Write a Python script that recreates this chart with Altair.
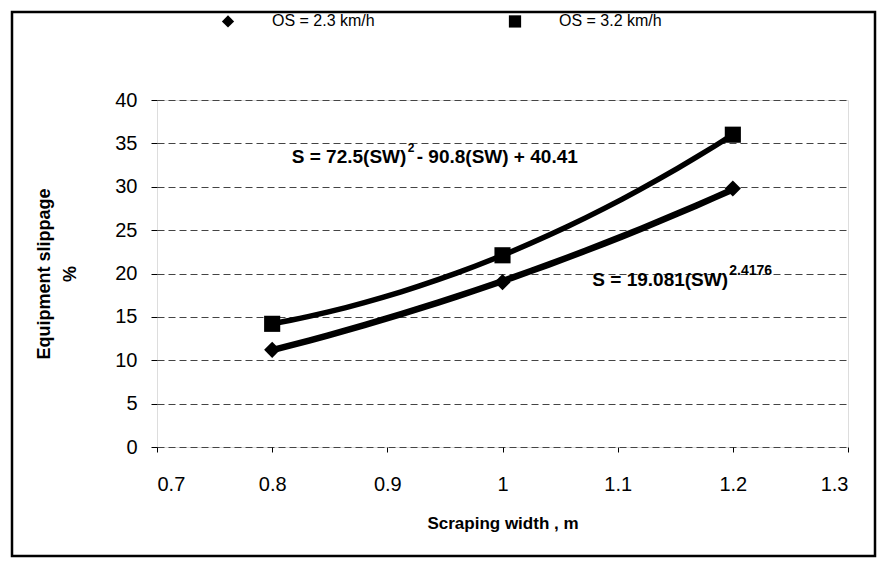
import altair as alt
import pandas as pd

# Values
sw = [0.8, 1.0, 1.2]
slip_os23 = [11.2, 19.0, 29.8]
slip_os32 = [14.2, 22.1, 36.0]
series_names = ["OS = 2.3 km/h", "OS = 3.2 km/h"]
x_ticks = [0.7, 0.8, 0.9, 1.0, 1.1, 1.2, 1.3]
y_ticks = [0, 5, 10, 15, 20, 25, 30, 35, 40]

# equation annotations (data coordinates of the left end)
eq_main = ["S = 72.5(SW)", "S = 19.081(SW)"]
eq_sup = ["2", "2.4176"]
eq_tail = [" - 90.8(SW) + 40.41", ""]
eq_x = [0.817, 1.078]
eq_y = [33.4, 19.3]

rows = []
for i, x in enumerate(sw):
    rows.append({"SW": x, "S": slip_os23[i], "series": series_names[0]})
    rows.append({"SW": x, "S": slip_os32[i], "series": series_names[1]})
df = pd.DataFrame(rows)
eq_df = pd.DataFrame({"x": eq_x, "y": eq_y, "main": eq_main, "sup": eq_sup, "tail": eq_tail})

FONT = "Liberation Sans"
W, H = 691, 347

xscale = alt.Scale(domain=[0.7, 1.3], nice=False, zero=False)
yscale = alt.Scale(domain=[0, 40], nice=False)

xenc = alt.X("SW:Q", scale=xscale,
             axis=alt.Axis(values=x_ticks, format="~g", grid=False,
                           title="Scraping width , m", titleFontWeight="bold",
                           titleFontSize=17, titleFont=FONT, titleY=76,
                           titleBaseline="middle", titleColor="black",
                           labelFontSize=20, labelFont=FONT, labelPadding=22,
                           tickSize=5, labelColor="black", tickColor="black",
                           domain=False))
yenc = alt.Y("S:Q", scale=yscale,
             axis=alt.Axis(values=y_ticks, grid=True, gridDash=[7, 4],
                           gridColor="#444444", gridWidth=1,
                           title=["Equipment slippage", "%"],
                           titleFontWeight="bold", titleFontSize=18,
                           titleFont=FONT, titleX=-113, titleY=H / 2,
                           titleAngle=270, titleBaseline="middle",
                           titleAlign="center", titleLineHeight=26,
                           titleColor="black",
                           labelFontSize=20, labelFont=FONT, labelPadding=14,
                           tickSize=6, labelColor="black", tickColor="black",
                           domain=False))

base = alt.Chart(df)

line23 = base.transform_filter(alt.datum.series == series_names[0]).transform_regression(
    "SW", "S", method="pow", extent=[0.8, 1.2]
).mark_line(color="black", strokeWidth=6.5).encode(x=xenc, y=yenc)

line32 = base.transform_filter(alt.datum.series == series_names[1]).transform_regression(
    "SW", "S", method="poly", order=2, extent=[0.8, 1.2]
).mark_line(color="black", strokeWidth=5.5).encode(x=xenc, y=yenc)

points = base.mark_point(filled=True, color="black", opacity=1, size=260).encode(
    x=xenc, y=yenc,
    shape=alt.Shape("series:N",
                    scale=alt.Scale(domain=series_names, range=["diamond", "square"]),
                    legend=alt.Legend(title=None, orient="none", legendX=63, legendY=-87,
                                      direction="horizontal", columns=2,
                                      labelFont=FONT, labelFontSize=16,
                                      labelOffset=36, columnPadding=130,
                                      symbolSize=150, symbolFillColor="black",
                                      symbolStrokeColor="black", symbolOpacity=1,
                                      labelColor="black")),
)

eq_font = 19
eq1 = alt.Chart(eq_df).mark_text(align="left", baseline="middle", font=FONT,
                                 fontWeight="bold", fontSize=eq_font, color="black").encode(
    x=alt.X("x:Q", scale=xscale), y=alt.Y("y:Q", scale=yscale), text="main:N")
sup_a = alt.Chart(eq_df.iloc[[0]]).mark_text(align="left", baseline="middle", font=FONT,
                                             fontWeight="bold", fontSize=12, dx=116, dy=-9,
                                             color="black").encode(
    x=alt.X("x:Q", scale=xscale), y=alt.Y("y:Q", scale=yscale), text="sup:N")
tail_a = alt.Chart(eq_df.iloc[[0]]).mark_text(align="left", baseline="middle", font=FONT,
                                              fontWeight="bold", fontSize=eq_font, dx=125,
                                              color="black").encode(
    x=alt.X("x:Q", scale=xscale), y=alt.Y("y:Q", scale=yscale), text="tail:N")
sup_b = alt.Chart(eq_df.iloc[[1]]).mark_text(align="left", baseline="middle", font=FONT,
                                             fontWeight="bold", fontSize=14, dx=137, dy=-9,
                                             color="black").encode(
    x=alt.X("x:Q", scale=xscale), y=alt.Y("y:Q", scale=yscale), text="sup:N")

frame = alt.Chart(pd.DataFrame({"k": [0]})).mark_rect(
    fill=None, stroke="black", strokeWidth=2.5).encode(
    x=alt.value(-145), x2=alt.value(718), y=alt.value(-88), y2=alt.value(456))

chart = alt.layer(frame, line32, line23, points, eq1, sup_a, tail_a, sup_b).properties(
    width=W, height=H,
    autosize=alt.AutoSizeParams(type="none"),
    padding={"left": 149, "top": 92, "right": 30, "bottom": 113},
).configure_view(stroke="black", strokeWidth=1.5).configure(background="white")

chart.save("out.html", embed_options={"renderer": "svg", "actions": False})
